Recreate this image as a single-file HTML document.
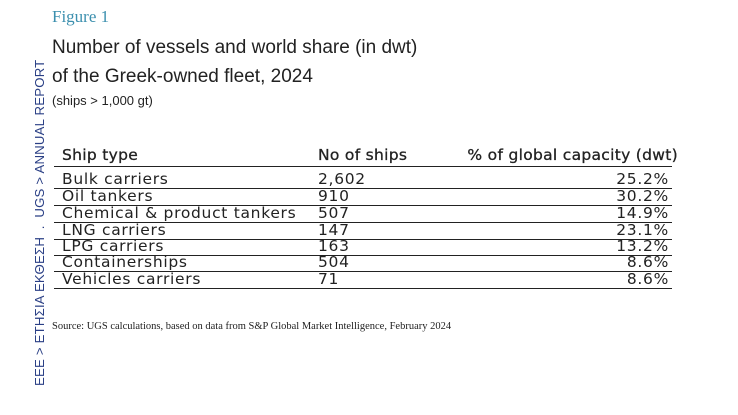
<!DOCTYPE html>
<html><head><meta charset="utf-8"><style>
body{margin:0;width:738px;height:415px;background:#fff;position:relative;overflow:hidden;font-family:"Liberation Sans",sans-serif;color:#222}
.side{position:absolute;left:32px;top:386px;transform-origin:0 0;transform:rotate(-90deg);white-space:nowrap;font-size:13.2px;color:#2a3f85;letter-spacing:0.2px}
.fig{position:absolute;left:52px;top:7px;font-family:"Liberation Serif",serif;font-size:17px;color:#3b8fae}
.t{position:absolute;left:52px;font-size:19px;color:#222}
.sub{position:absolute;left:52px;top:93px;font-size:13px}
.row{position:absolute;left:54px;width:618px;height:17px;font-family:"DejaVu Sans",sans-serif;font-size:15.5px;line-height:17px;border-bottom:1px solid #222;letter-spacing:0.7px}
.row span{position:absolute}
.a{left:8px}.b{left:264px}.c{right:3px}
.hdr{font-size:15.5px;letter-spacing:0.3px;-webkit-text-stroke:0.3px #222}
.hdr .c{right:-6px}
.src{position:absolute;left:52px;top:321px;font-family:"Liberation Serif",serif;font-size:10.5px}
</style></head><body>
<div class="side">EEE &gt; ΕΤΗΣΙΑ ΕΚΘΕΣΗ &nbsp;. &nbsp;UGS &gt; ANNUAL REPORT</div>
<div class="fig">Figure 1</div>
<div class="t" style="top:37px">Number of vessels and world share (in dwt)</div>
<div class="t" style="top:66px">of the Greek-owned fleet, 2024</div>
<div class="sub">(ships &gt; 1,000 gt)</div>
<div class="row hdr" style="top:145px;height:21px;line-height:20px"><span class="a">Ship type</span><span class="b">No of ships</span><span class="c">% of global capacity (dwt)</span></div>
<div class="row" style="top:171px"><span class="a">Bulk carriers</span><span class="b">2,602</span><span class="c">25.2%</span></div>
<div class="row" style="top:188px"><span class="a">Oil tankers</span><span class="b">910</span><span class="c">30.2%</span></div>
<div class="row" style="top:205px"><span class="a">Chemical &amp; product tankers</span><span class="b">507</span><span class="c">14.9%</span></div>
<div class="row" style="top:222px"><span class="a">LNG carriers</span><span class="b">147</span><span class="c">23.1%</span></div>
<div class="row" style="top:238px"><span class="a">LPG carriers</span><span class="b">163</span><span class="c">13.2%</span></div>
<div class="row" style="top:254px"><span class="a">Containerships</span><span class="b">504</span><span class="c">8.6%</span></div>
<div class="row" style="top:271px"><span class="a">Vehicles carriers</span><span class="b">71</span><span class="c">8.6%</span></div>
<div class="src">Source: UGS calculations, based on data from S&amp;P Global Market Intelligence, February 2024</div>
</body></html>
